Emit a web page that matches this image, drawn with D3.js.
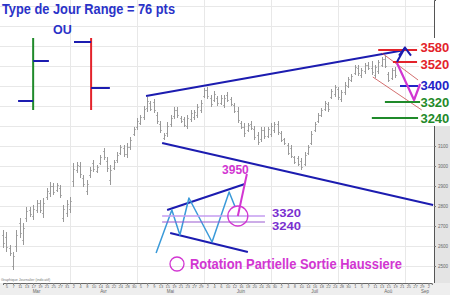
<!DOCTYPE html>
<html><head><meta charset="utf-8">
<script src="https://cdn.jsdelivr.net/npm/d3@7/dist/d3.min.js"></script>
<style>html,body{margin:0;padding:0;background:#fff;} svg{display:block;font-family:"Liberation Sans",Arial,sans-serif;}</style>
</head><body><svg id="c" width="450" height="295"></svg>
<script>
// ---- data (price, one bar per trading day from 3 Mar 2003) ----
const high=[2680,2670,2605,2570,2680,2740,2715,2795,2795,2805,2830,2830,2840,2890,2920,2915,2915,2905,2805,2830,
2845,3015,3020,3020,2955,2930,2995,3030,3005,3055,3090,3045,3005,3030,3070,3105,3105,3115,3145,3195,
3240,3255,3300,3345,3325,3335,3270,3225,3165,3220,3255,3295,3295,3250,3245,3255,3280,3280,3310,3330,
3390,3395,3355,3375,3350,3355,3355,3370,3345,3315,3295,3225,3215,3215,3225,3200,3170,3195,3195,3195,
3215,3220,3225,3175,3140,3115,3105,3050,3050,3040,3070,3105,3175,3220,3265,3290,3325,3320,3385,3405,
3395,3380,3420,3445,3460,3505,3505,3490,3515,3520,3525,3505,3530,3545,3550,3470,3490,3495];
const low=[2590,2570,2550,2480,2570,2640,2605,2720,2745,2730,2765,2765,2740,2830,2845,2855,2870,2840,2720,2745,
2765,2895,2965,2940,2895,2855,2940,2970,2965,3005,3030,2970,2905,2980,3015,3055,3045,3040,3080,3150,
3180,3205,3230,3270,3275,3265,3210,3165,3130,3145,3195,3235,3240,3215,3195,3185,3220,3230,3240,3265,
3340,3335,3295,3320,3300,3305,3290,3320,3300,3265,3215,3185,3145,3170,3180,3130,3105,3120,3135,3140,
3145,3165,3155,3120,3105,3055,3040,3010,3000,2980,3000,3055,3105,3170,3215,3245,3275,3270,3335,3345,
3330,3320,3355,3390,3420,3455,3450,3440,3460,3480,3455,3440,3460,3495,3490,3420,3430,3440];
const open=[2655,2645,2590,2500,2600,2715,2630,2740,2780,2750,2780,2815,2765,2845,2865,2900,2880,2890,2740,2765,
2785,2925,2980,3000,2940,2875,2955,3015,2975,3015,3075,3025,2930,2990,3030,3065,3090,3060,3095,3160,
3195,3215,3245,3290,3315,3320,3255,3210,3140,3165,3210,3250,3280,3240,3235,3200,3235,3245,3255,3280,
3350,3380,3340,3330,3340,3315,3305,3355,3335,3305,3275,3215,3195,3180,3210,3185,3155,3135,3180,3150,
3160,3180,3210,3165,3135,3105,3090,3045,3040,3025,3010,3065,3115,3180,3225,3255,3285,3310,3345,3360,
3385,3335,3370,3400,3430,3465,3490,3455,3475,3505,3490,3455,3475,3505,3535,3460,3440,3480];
const close=[2615,2595,2565,2550,2655,2665,2690,2775,2760,2785,2815,2780,2815,2875,2900,2870,2905,2855,2785,2810,
2825,2985,3005,2960,2910,2910,2980,2985,2995,3045,3045,2990,2980,3020,3055,3095,3060,3095,3130,3185,
3225,3245,3285,3325,3285,3280,3225,3180,3155,3200,3240,3280,3255,3225,3205,3240,3265,3270,3295,3315,
3380,3350,3310,3360,3315,3340,3340,3330,3310,3275,3230,3195,3165,3205,3190,3145,3120,3180,3150,3185,
3200,3210,3170,3130,3115,3065,3050,3020,3010,2995,3055,3095,3160,3210,3255,3280,3315,3285,3375,3395,
3345,3370,3405,3435,3450,3495,3465,3480,3505,3490,3470,3495,3520,3535,3500,3430,3480,3455];
const startDay="2003-03-03";
const holidays=["2003-04-18","2003-04-21","2003-05-01"];
const nDays=129;
const priceTicks=[2500,2600,2700,2800,2900,3000,3100,3200,3300,3400,3500,3600,3700,3800];
const axisLabelTicks=[2500,2600,2700,2800,2900,3000,3100];
const monthNames=["Jan","Fév","Mar","Avr","Mai","Juin","Juil","Aoû","Sep","Oct","Nov","Déc"];

// target levels (price) and label colours
const levels=[3580,3520,3400,3320,3240];
const levelColors=["#e3232b","#e3232b","#2323c8","#1f8a2a","#1f8a2a"];
const levelStart=[112,116.4,118.5,114,110.1];
const levelEnd=[123.6,123.6,123.9,124.5,123.9];
const levelLabelDy=[2,6.5,4,5,5];

// trend / annotation lines as [barIndex, price]
const upperTrend=[[42.7,3350],[120,3580]];
const lowerTrend=[[47.5,3115],[128.4,2805]];
const redChannel1=[[113.1,3565],[123.9,3430]];
const redChannel2=[[110.4,3445],[125,3280]];
const blueArrow=[[117.6,3520],[120,3592]];
const magentaV=[[117.6,3515],[122.7,3330],[124.5,3410]];
// schematic
const insetUpper=[[49,2780],[72.2,2910]];
const insetLower=[[49.9,2665],[73.1,2570]];
const zigzag=[[45.7,2565],[50.4,2780],[52.8,2655],[55.5,2840],[62.4,2620],[67.5,2870],[69.3,2795]];
const magentaLeg=[[70.1,2750],[72.8,2960]];
const insetLevels=[2750,2720];
// legend bars
const greenBar={i:9,top:3640,bot:3280,right:[3525,13.7],left:[3325,4.5]};
const redBar={i:26.3,top:3640,bot:3280,left:[3620,21.2],right:[3390,31.9]};

// ---- scales ----
const svg=d3.select("#c");
const x=d3.scaleLinear().domain([0,nDays-1]).range([3,3+(nDays-1)*3.35]);
const y=d3.scaleLinear().domain([2415,3830]).range([283,0]);
const fmt=d3.timeFormat("%Y-%m-%d");
const days=d3.timeDay.range(new Date(startDay+"T12:00:00"),new Date(2003,11,1))
  .filter(d=>d.getDay()>0&&d.getDay()<6&&!holidays.includes(fmt(d))).slice(0,nDays);

const axisX=434, axisY=283;
// grid
svg.append("g").selectAll("line").data(priceTicks).join("line")
 .attr("x1",0).attr("x2",axisX).attr("y1",d=>Math.round(y(d))+0.5).attr("y2",d=>Math.round(y(d))+0.5)
 .attr("stroke","#e8e8e8").attr("stroke-width",1);
svg.append("g").selectAll("line").data([20,40,60,80,100,120]).join("line")
 .attr("x1",d=>Math.round(x(d))+0.5).attr("x2",d=>Math.round(x(d))+0.5).attr("y1",0).attr("y2",axisY)
 .attr("stroke","#e8e8e8").attr("stroke-width",1);

// right axis panel
svg.append("rect").attr("x",axisX).attr("y",123).attr("width",450-axisX).attr("height",axisY-123).attr("fill","#e4e4e4");
const ra=svg.append("g").attr("transform",`translate(${axisX},0)`).call(d3.axisRight(y).tickValues(axisLabelTicks).tickSize(2).tickFormat(d3.format("d")));
ra.select(".domain").attr("stroke","#555");
ra.selectAll("text").attr("font-size",4.5).attr("fill","#666").attr("x",4);
ra.selectAll(".tick line").attr("stroke","#777");
// bottom axis strip
svg.append("rect").attr("x",0).attr("y",axisY).attr("width",450).attr("height",295-axisY).attr("fill","#eeeeee");
const tickIdx=d3.range(1,nDays,2);
const ba=svg.append("g").attr("transform",`translate(0,${axisY})`).call(d3.axisBottom(x).tickValues(tickIdx).tickSize(2).tickFormat(i=>days[i].getDate()));
ba.select(".domain").attr("stroke","#666");
ba.selectAll("text").attr("font-size",4).attr("fill","#666").attr("dy","-0.1em");
ba.selectAll(".tick line").attr("stroke","#888");
// month labels
const months=d3.groups(days.map((d,i)=>({d,i})),o=>o.d.getMonth());
svg.append("g").selectAll("text").data(months).join("text")
 .attr("x",m=>x(m[1].length>5?m[1][Math.floor(m[1].length/2)].i:m[1][0].i)).attr("y",293)
 .attr("text-anchor","middle").attr("font-size",4.5).attr("fill","#666").text(m=>monthNames[m[0]]);
svg.append("text").attr("x",1).attr("y",281).attr("font-size",3.6).attr("fill","#777").text("Graphique Journalier (indicatif)");

// ---- OHLC bars ----
const bars=svg.append("g").attr("stroke","#999").attr("stroke-width",1).attr("fill","none");
high.forEach((h,i)=>{
  const cx=Math.round(x(i))+0.5;
  bars.append("line").attr("x1",cx).attr("x2",cx).attr("y1",y(h)).attr("y2",y(low[i]));
  bars.append("line").attr("x1",cx-1.2).attr("x2",cx).attr("y1",Math.round(y(open[i]))+0.5).attr("y2",Math.round(y(open[i]))+0.5);
  bars.append("line").attr("x1",cx).attr("x2",cx+1.2).attr("y1",Math.round(y(close[i]))+0.5).attr("y2",Math.round(y(close[i]))+0.5);
});

const line=d3.line().x(d=>x(d[0])).y(d=>y(d[1]));
function path(data,color,w){svg.append("path").attr("d",line(data)).attr("fill","none").attr("stroke",color).attr("stroke-width",w).attr("stroke-linejoin","round");}

// white box behind level labels
svg.append("rect").attr("x",419).attr("y",38).attr("width",31).attr("height",88).attr("fill","#fff");

// trend lines
const navy="#1c1cb0";
path(upperTrend,navy,2);
path(lowerTrend,navy,2);
path(redChannel1,"#c84a4a",0.8);
path(redChannel2,"#c84a4a",0.8);
// levels
levels.forEach((p,k)=>{
  path([[levelStart[k],p],[levelEnd[k],p]],levelColors[k],2);
  svg.append("text").attr("x",x(124.6)).attr("y",y(p)+levelLabelDy[k]).attr("font-size",13).attr("font-weight","bold")
   .attr("fill",levelColors[k]).text(p);
});
path(blueArrow,navy,2);
{const t=blueArrow[1];const tx=x(t[0]),ty=y(t[1]);
 svg.append("path").attr("d",`M${tx-6},${ty+8}L${tx},${ty}L${tx+6},${ty+8}`).attr("fill","none").attr("stroke",navy).attr("stroke-width",2);}
path(magentaV,"#d236d2",2.2);

// legend bars top-left
function legend(b,color){
  path([[b.i,b.top],[b.i,b.bot]],color,2);
  if(b.left) path([[b.left[1],b.left[0]],[b.i,b.left[0]]],navy,2);
  if(b.right) path([[b.i,b.right[0]],[b.right[1],b.right[0]]],navy,2);
}
legend(greenBar,"#1f8a2a");
legend(redBar,"#e3232b");

// schematic
path(insetUpper,navy,2);
path(insetLower,navy,2);
path(zigzag,"#3a9ad9",1.5);
path([[47.5,insetLevels[0]],[78.2,insetLevels[0]]],"#c49cf0",1.5);
path([[47.5,insetLevels[1]],[78.2,insetLevels[1]]],"#9a5ad0",1.2);
path(magentaLeg,"#d236d2",2);
svg.append("circle").attr("cx",x(70.1)).attr("cy",y(2750)).attr("r",10).attr("fill","none").attr("stroke","#d236d2").attr("stroke-width",1.3);
svg.append("text").attr("x",x(65.4)).attr("y",y(2960)).attr("font-size",12).attr("font-weight","bold").attr("fill","#d236d2").text("3950");
svg.append("text").attr("x",x(80.3)).attr("y",y(2745)).attr("font-size",11.5).attr("font-weight","bold").attr("fill","#7a30d0")
 .attr("textLength",29).attr("lengthAdjust","spacingAndGlyphs").text("3320");
svg.append("text").attr("x",x(80.3)).attr("y",y(2680)).attr("font-size",11.5).attr("font-weight","bold").attr("fill","#7a30d0")
 .attr("textLength",29).attr("lengthAdjust","spacingAndGlyphs").text("3240");

// texts
svg.append("text").attr("x",2).attr("y",14).attr("font-size",14).attr("font-weight","bold").attr("fill","#2a32c8")
 .attr("textLength",173).attr("lengthAdjust","spacingAndGlyphs").text("Type de Jour Range = 76 pts");
svg.append("text").attr("x",53).attr("y",34).attr("font-size",12.5).attr("font-weight","bold").attr("fill","#2a32c8").text("OU");
svg.append("circle").attr("cx",177).attr("cy",264).attr("r",7).attr("fill","none").attr("stroke","#d236d2").attr("stroke-width",1.3);
svg.append("text").attr("x",190).attr("y",269).attr("font-size",14).attr("font-weight","bold").attr("fill","#d236d2")
 .attr("textLength",212).attr("lengthAdjust","spacingAndGlyphs").text("Rotation Partielle Sortie Haussiere");
</script></body></html>
